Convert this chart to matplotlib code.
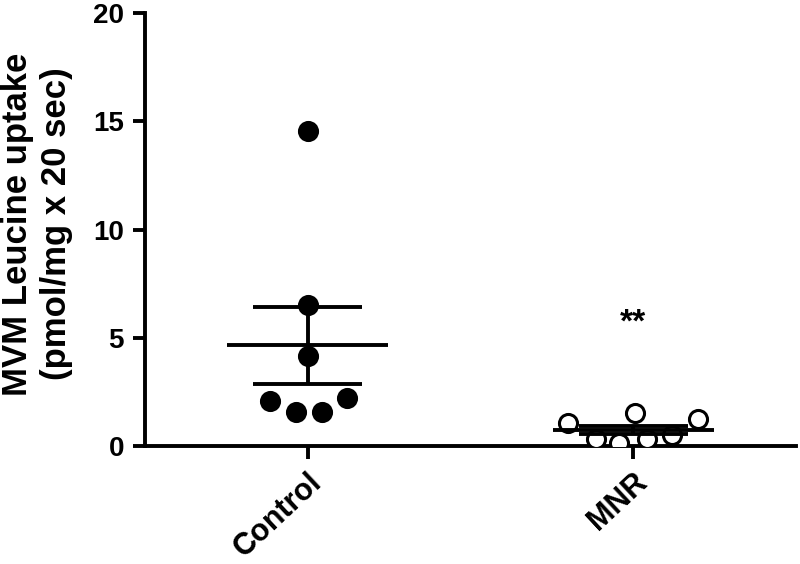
import numpy as np
import matplotlib
matplotlib.use("Agg")
import matplotlib.pyplot as plt

plt.rcParams['font.family'] = ['Liberation Sans', 'DejaVu Sans']
plt.rcParams['font.weight'] = 'bold'

groups = ["Control", "MNR"]
control_vals = [14.55, 6.5, 4.15, 2.08, 1.57, 1.57, 2.2]
control_offsets = [0.0, 0.0, 0.0, -0.117, -0.037, 0.043, 0.12]
mnr_vals = [1.06, 1.52, 1.25, 0.35, 0.15, 0.35, 0.5]
mnr_offsets = [-0.2, 0.005, 0.2, -0.114, -0.043, 0.043, 0.12]
star_y = 5.7

fig = plt.figure(figsize=(8, 5.64), dpi=100)
ax = fig.add_axes([0.181, 0.209, 0.814, 0.768])

lw = 2.8
for i, (vals, offs, face) in enumerate([(control_vals, control_offsets, 'black'),
                                         (mnr_vals, mnr_offsets, 'white')]):
    vals = np.array(vals)
    mean = vals.mean()
    sem = vals.std(ddof=1) / np.sqrt(len(vals))
    ax.plot(i + np.array(offs), vals, 'o', ms=13, mfc=face, mec='black', mew=2.2,
            ls='none', zorder=3)
    ax.hlines(mean, i - 0.247, i + 0.247, color='black', lw=lw, zorder=4)
    ax.hlines([mean - sem, mean + sem], i - 0.167, i + 0.167, color='black', lw=lw, zorder=4)
    ax.vlines(i, mean - sem, mean + sem, color='black', lw=lw, zorder=4)

ax.text(1, star_y, "**", ha='center', va='center', fontsize=24, fontweight='bold')

ax.set_xlim(-0.5, 1.5)
ax.set_ylim(0, 20)
ax.set_yticks([0, 5, 10, 15, 20])
ax.set_xticks([0, 1])
ax.set_xticklabels(groups, rotation=43, ha='right', rotation_mode='anchor')
ax.tick_params(axis='both', width=lw, length=9)
ax.tick_params(axis='x', pad=6, labelsize=22)
ax.tick_params(axis='y', pad=6, labelsize=20)
ax.set_ylabel("MVM Leucine uptake\n(pmol/mg x 20 sec)", fontsize=25, fontweight='bold',
              linespacing=1.25)
ax.yaxis.set_label_coords(-0.11, 0.513)

for s in ['top', 'right']:
    ax.spines[s].set_visible(False)
for s in ['left', 'bottom']:
    ax.spines[s].set_linewidth(lw)

fig.savefig("out.png", dpi=100)
